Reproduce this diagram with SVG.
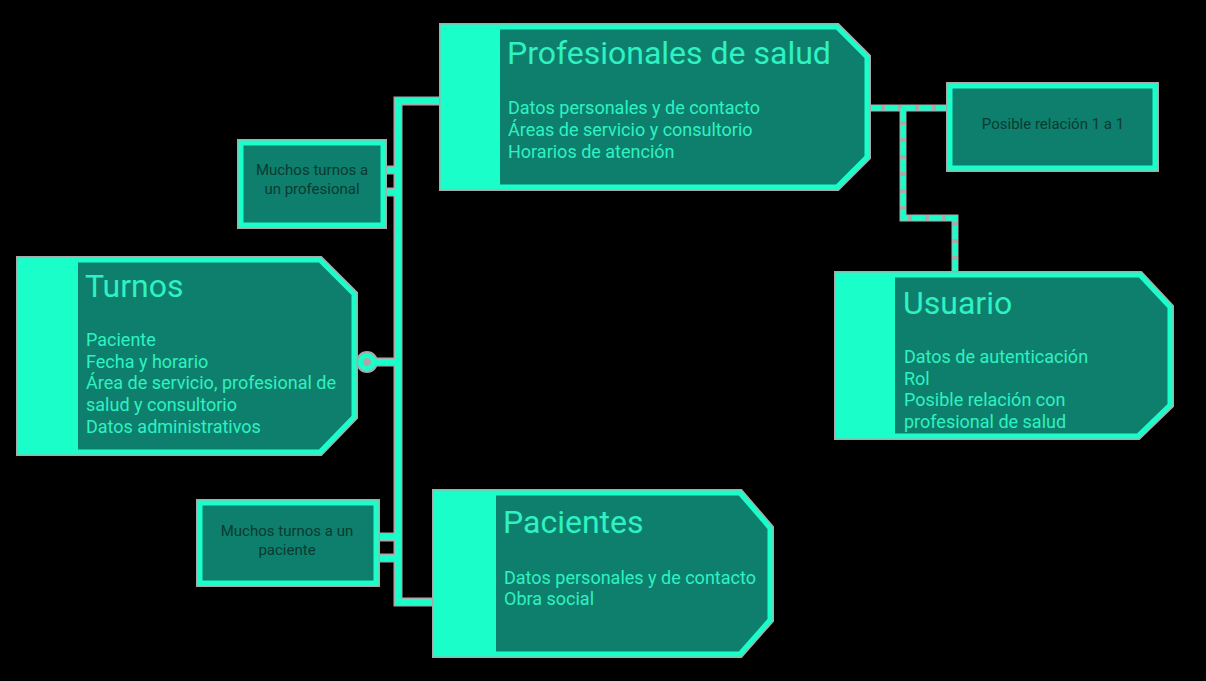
<svg xmlns="http://www.w3.org/2000/svg" width="1206" height="681" viewBox="0 0 1206 681">
<style>
.halo{fill:none;stroke:#a9a9a9;stroke-width:8;stroke-linejoin:miter}
.node{fill:#0e7f6c;stroke:#1affc9;stroke-width:5;stroke-linejoin:miter}
.bar{fill:#1affc9}
.line{fill:none;stroke:#1affc9;stroke-width:6}
.lhalo{fill:none;stroke:#a9a9a9;stroke-width:9}
.dash{fill:none;stroke:#1affc9;stroke-width:5;stroke-dasharray:13 4}
.dhalo{fill:none;stroke:#a9a9a9;stroke-width:7}
.title{font-family:Roboto,"Liberation Sans",sans-serif;font-size:32px;fill:#2ef2c2}
.body{font-family:Roboto,"Liberation Sans",sans-serif;font-size:18px;fill:#2ef2c2}
.small{font-family:Roboto,"Liberation Sans",sans-serif;font-size:15px;fill:#0a3a32;text-anchor:middle}
</style>
<rect width="1206" height="681" fill="#000"/>
<g id="connectors">
  <path class="lhalo" d="M441,101 H398 V602 H434"/>
  <path class="lhalo" d="M355,362 H398"/>
  <circle cx="367" cy="362" r="7" fill="none" stroke="#a9a9a9" stroke-width="8"/>
  <path class="lhalo" d="M384,170 H398 M384,192 H398"/>
  <path class="lhalo" d="M379,537 H398 M379,558 H398"/>
  <path class="line" d="M441,101 H398 V602 H434"/>
  <path class="line" d="M355,362 H398"/>
  <circle cx="367" cy="362" r="6.5" fill="#a9a9a9" stroke="#1affc9" stroke-width="5"/>
  <path class="line" d="M384,170 H398 M384,192 H398"/>
  <path class="line" d="M379,537 H398 M379,558 H398"/>
  <path class="dhalo" d="M868,108 H948 M903,108 V218 H955 V273"/>
  <path class="dash" d="M868,108 H948 M903,108 V218 H955 V273"/>
</g>
<g id="profesionales">
  <path class="halo" d="M443,27 H837 L867,57 V157 L837,187 H443 Z"/>
  <path class="node" d="M443,27 H837 L867,57 V157 L837,187 H443 Z"/>
  <rect class="bar" x="441" y="25" width="59" height="164"/>
  <text class="title" x="507" y="64">Profesionales de salud</text>
  <text class="body" x="508" y="114">Datos personales y de contacto</text>
  <text class="body" x="508" y="136">Áreas de servicio y consultorio</text>
  <text class="body" x="508" y="158">Horarios de atención</text>
</g>
<g id="relacion">
  <rect class="halo" x="950" y="86" width="205" height="82"/>
  <rect class="node" x="950" y="86" width="205" height="82" stroke-width="6"/>
  <text class="small" x="1053" y="129">Posible relación 1 a 1</text>
</g>
<g id="muchos-profesional">
  <rect class="halo" x="241" y="143" width="142" height="82"/>
  <rect class="node" x="241" y="143" width="142" height="82" stroke-width="6"/>
  <text class="small" x="312" y="175">Muchos turnos a</text>
  <text class="small" x="312" y="194">un profesional</text>
</g>
<g id="turnos">
  <path class="halo" d="M20,260 H320 L354,294 V417 L320,452 H20 Z"/>
  <path class="node" d="M20,260 H320 L354,294 V417 L320,452 H20 Z"/>
  <rect class="bar" x="18" y="258" width="60" height="196"/>
  <text class="title" x="85" y="297">Turnos</text>
  <text class="body" x="86" y="346">Paciente</text>
  <text class="body" x="86" y="368">Fecha y horario</text>
  <text class="body" x="86" y="389">Área de servicio, profesional de</text>
  <text class="body" x="86" y="411">salud y consultorio</text>
  <text class="body" x="86" y="433">Datos administrativos</text>
</g>
<g id="usuario">
  <path class="halo" d="M838,275 H1140 L1170,307 V405 L1138,436 H838 Z"/>
  <path class="node" d="M838,275 H1140 L1170,307 V405 L1138,436 H838 Z"/>
  <rect class="bar" x="836" y="273" width="59" height="165"/>
  <text class="title" x="903" y="314">Usuario</text>
  <text class="body" x="904" y="363">Datos de autenticación</text>
  <text class="body" x="904" y="385">Rol</text>
  <text class="body" x="904" y="406">Posible relación con</text>
  <text class="body" x="904" y="428">profesional de salud</text>
</g>
<g id="muchos-paciente">
  <rect class="halo" x="200" y="503" width="176" height="80"/>
  <rect class="node" x="200" y="503" width="176" height="80" stroke-width="6"/>
  <text class="small" x="287" y="536">Muchos turnos a un</text>
  <text class="small" x="287" y="555">paciente</text>
</g>
<g id="pacientes">
  <path class="halo" d="M436,493 H740 L770,528 V620 L740,654 H436 Z"/>
  <path class="node" d="M436,493 H740 L770,528 V620 L740,654 H436 Z"/>
  <rect class="bar" x="434" y="491" width="62" height="165"/>
  <text class="title" x="503" y="533">Pacientes</text>
  <text class="body" x="504" y="584">Datos personales y de contacto</text>
  <text class="body" x="504" y="605">Obra social</text>
</g>
</svg>
